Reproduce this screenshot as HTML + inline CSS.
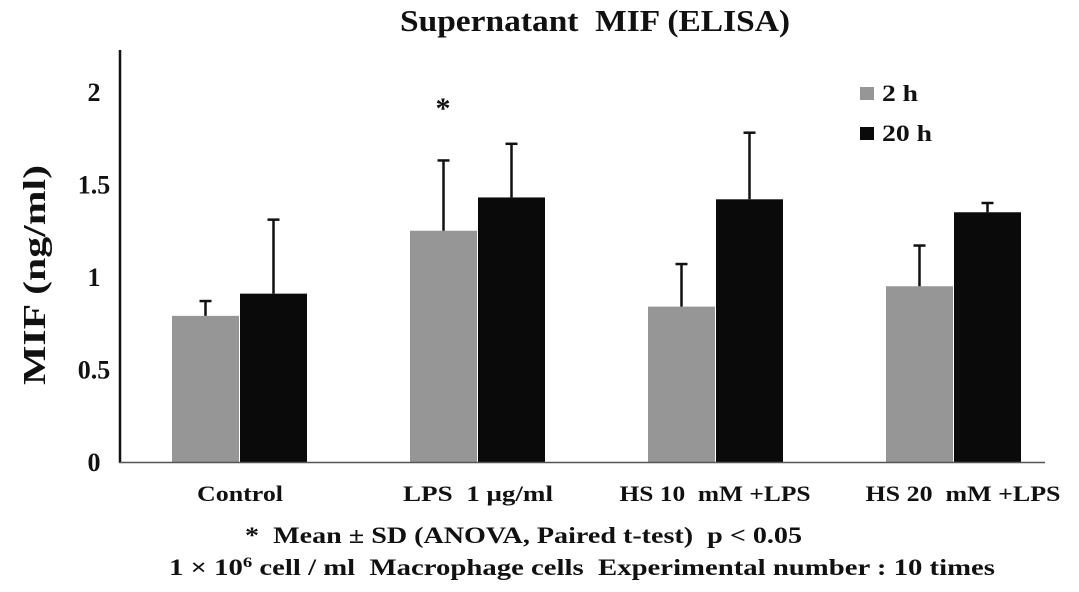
<!DOCTYPE html>
<html><head><meta charset="utf-8"><style>
body{margin:0;background:#fff;}
svg text{font-family:"Liberation Serif",serif;font-weight:bold;fill:#111;white-space:pre;}
</style></head><body>
<svg id="chart" width="1079" height="587" viewBox="0 0 1079 587" xmlns="http://www.w3.org/2000/svg">
<text x="400" y="31" font-size="31" textLength="390" lengthAdjust="spacingAndGlyphs">Supernatant  MIF (ELISA)</text>
<text transform="translate(45,275) rotate(-90)" font-size="32" text-anchor="middle" textLength="220" lengthAdjust="spacingAndGlyphs">MIF (ng/ml)</text>
<g id="yticks"></g>
<g id="bars"></g>
<line x1="120" y1="50" x2="120" y2="463" stroke="#111" stroke-width="2.5"/>
<line x1="119" y1="462.5" x2="1045" y2="462.5" stroke="#555" stroke-width="1.5"/>
<text x="443" y="118" font-size="30" text-anchor="middle">*</text>
<g>
<rect x="860" y="87" width="14" height="13" fill="#969696"/>
<text x="882" y="101" font-size="23" textLength="36" lengthAdjust="spacingAndGlyphs">2 h</text>
<rect x="860" y="127" width="14" height="13" fill="#0a0a0a"/>
<text x="882" y="141" font-size="23" textLength="50" lengthAdjust="spacingAndGlyphs">20 h</text>
</g>
<text x="245" y="543" font-size="23" textLength="557" lengthAdjust="spacingAndGlyphs">*  Mean ± SD (ANOVA, Paired t-test)  p &lt; 0.05</text>
<text x="169" y="575" font-size="23" textLength="826" lengthAdjust="spacingAndGlyphs">1 × 10<tspan font-size="15" dy="-8">6</tspan><tspan dy="8"> cell / ml  Macrophage cells  Experimental number : 10 times</tspan></text>
</svg>
<script>
const categories=["Control","LPS  1 μg/ml","HS 10  mM +LPS","HS 20  mM +LPS"];
const values2h=[0.79,1.25,0.84,0.95];
const err2h=[0.87,1.63,1.07,1.17];
const values20h=[0.91,1.43,1.42,1.35];
const err20h=[1.31,1.72,1.78,1.40];
const yTicks=[0,0.5,1,1.5,2];
const yTickLabels=["0","0.5","1","1.5","2"];
const NS="http://www.w3.org/2000/svg";
const y0=462, yScale=185;
function y(v){return y0-v*yScale;}
function groupX(i){return 172+i*238;}
const bw=67;
const labelW=[86,150,191,195];
const labelC=[240,478,715,963];
function mk(tag,attrs,parent){const e=document.createElementNS(NS,tag);for(const k in attrs)e.setAttribute(k,attrs[k]);parent.appendChild(e);return e;}
const yt=document.getElementById('yticks');
yTicks.forEach((t,i)=>{const e=mk('text',{x:94,y:y(t)+9,'font-size':26,'text-anchor':'middle'},yt);e.textContent=yTickLabels[i];

});
const bars=document.getElementById('bars');
categories.forEach((c,i)=>{
 const gx=groupX(i);
 [[values2h,err2h,'#969696',0,'2h'],[values20h,err20h,'#0a0a0a',bw+1,'20h']].forEach(s=>{
  const x=gx+s[3], v=s[0][i], ev=s[1][i], cx=x+bw/2;
  const r=mk('rect',{x:x,y:y(v),width:bw,height:y0-y(v),fill:s[2]},bars);
  
  
  const l=mk('line',{x1:cx,y1:y(v),x2:cx,y2:y(ev),stroke:'#111','stroke-width':2.5},bars);
  
  
  const cap=mk('line',{x1:cx-6,y1:y(ev),x2:cx+6,y2:y(ev),stroke:'#111','stroke-width':2.5},bars);
  
  
 });
 const t=mk('text',{x:labelC[i]-labelW[i]/2,y:501,'font-size':22,textLength:labelW[i],lengthAdjust:'spacingAndGlyphs'},bars);
 t.textContent=c;
 
 
});
</script>
</body></html>
